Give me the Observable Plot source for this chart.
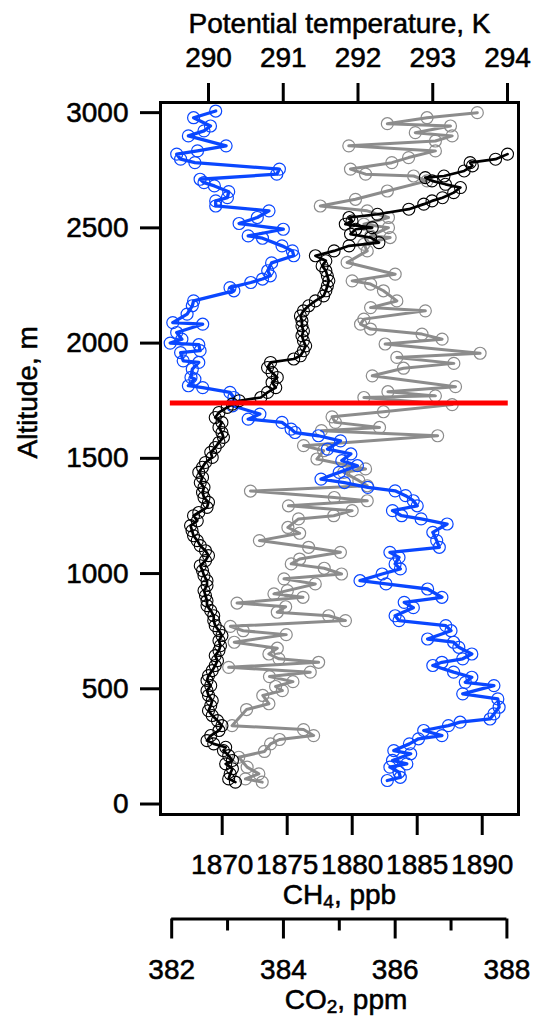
<!DOCTYPE html>
<html><head><meta charset="utf-8">
<script src="https://cdn.jsdelivr.net/npm/d3@7"></script>
<script src="https://cdn.jsdelivr.net/npm/@observablehq/plot@0.6"></script>
<style>body{margin:0;background:#fff}#chart svg{display:block}</style>
</head><body><div id="chart"></div>
<script>
// ---- tick labels ----
const thetaTicks = [290, 291, 292, 293, 294];
const ch4Ticks = [1870, 1875, 1880, 1885, 1890];
const co2Ticks = [382, 384, 386, 388];
const co2Minor = [383, 385, 387];
const altTicks = [0, 500, 1000, 1500, 2000, 2500, 3000];
const pblAltitude = 1740;

// ---- potential temperature profile (K) ----
const thetaAlt = [2820,2798,2783,2769,2747,2725,2718,2704,2689,2675,2653,2631,2617,2603,2581,2559,2545,2530,2516,2501,2494,2473,2458,2436,2422,2400,2379,2357,2335,2314,2292,2270,2248,2227,2205,2183,2162,2140,2118,2097,2075,2053,2032,2010,1988,1967,1945,1931,1916,1894,1872,1851,1829,1807,1786,1764,1750,1735,1721,1699,1677,1656,1634,1612,1591,1569,1547,1526,1504,1482,1461,1439,1417,1395,1374,1352,1330,1309,1287,1265,1251,1229,1208,1186,1164,1143,1121,1099,1078,1056,1034,1013,991,969,948,926,904,882,861,839,817,796,774,752,731,709,687,666,644,622,601,579,557,536,514,492,471,449,427,405,384,362,340,319,297,275,261,246,232,210,189,174,153,131,109,95];
const theta = [294.00,293.84,293.50,293.53,293.42,293.15,292.90,292.99,293.17,293.37,293.28,293.13,292.99,292.88,292.68,292.26,291.88,291.92,291.83,292.19,291.97,291.90,292.17,292.28,291.88,291.68,291.43,291.57,291.52,291.57,291.59,291.61,291.59,291.57,291.54,291.43,291.34,291.27,291.23,291.25,291.25,291.27,291.25,291.27,291.30,291.27,291.23,291.14,290.83,290.79,290.85,290.92,290.85,290.90,290.79,290.70,290.41,290.32,290.25,290.14,290.09,290.18,290.14,290.18,290.20,290.14,290.09,290.03,290.05,289.96,289.92,289.87,289.92,289.89,289.94,289.92,289.94,290.00,289.98,289.87,289.80,289.85,289.76,289.78,289.80,289.85,289.89,289.96,290.00,289.96,289.89,289.92,289.94,289.98,289.98,289.94,289.96,289.98,289.98,290.03,290.07,290.07,290.09,290.14,290.18,290.14,290.16,290.14,290.09,290.12,290.09,290.05,290.00,289.98,290.03,289.98,290.00,290.05,290.03,290.00,290.05,290.12,290.18,290.14,290.03,289.98,290.07,290.23,290.20,290.27,290.32,290.23,290.32,290.29,290.27,290.36];

// ---- CH4 profile (ppb) ----
const ch4Alt = [3007,2978,2942,2921,2899,2856,2834,2820,2798,2783,2755,2733,2711,2696,2682,2657,2631,2617,2595,2574,2545,2519,2494,2465,2455,2422,2400,2379,2348,2314,2292,2278,2263,2241,2227,2183,2162,2126,2089,2082,2046,2017,2000,1993,1967,1959,1923,1916,1887,1851,1844,1815,1807,1786,1764,1728,1692,1670,1656,1627,1612,1598,1576,1540,1519,1490,1468,1439,1410,1395,1374,1359,1338,1316,1294,1273,1251,1237,1215,1179,1143,1114,1092,1070,1042,1020,998,969,955,933,897,875,852,817,796,774,752,716,702,680,651,630,615,601,572,550,528,514,478,456,420,391,369,355,340,319,297,283,261,232,218,189,174,160,138,116,102];
const ch4 = [1869.5,1867.8,1869.1,1868.6,1867.4,1870.3,1868.1,1866.5,1866.8,1867.9,1874.4,1874.2,1868.3,1868.6,1869.4,1870.5,1870.4,1869.5,1869.5,1873.6,1872.7,1871.3,1874.7,1872.0,1873.1,1874.6,1875.4,1875.5,1873.8,1873.5,1873.7,1873.1,1872.2,1870.6,1870.9,1867.8,1867.7,1867.3,1866.2,1868.5,1866.5,1866.9,1866.0,1868.2,1868.3,1866.8,1867.0,1868.2,1867.7,1867.6,1867.9,1867.4,1868.5,1870.6,1870.9,1870.8,1872.9,1872.0,1874.6,1875.3,1875.6,1877.4,1879.1,1878.1,1879.9,1879.2,1880.4,1879.0,1877.6,1879.4,1881.2,1883.3,1884.1,1884.7,1885.0,1883.1,1883.8,1885.3,1887.3,1886.2,1886.5,1886.7,1882.9,1883.6,1883.3,1883.7,1882.3,1880.6,1882.6,1885.8,1886.9,1884.0,1884.7,1883.3,1883.6,1887.2,1887.6,1885.8,1887.8,1888.2,1889.2,1888.5,1886.9,1886.2,1887.8,1889.2,1888.7,1890.9,1888.5,1891.2,1891.3,1890.9,1890.6,1888.3,1887.4,1885.5,1886.9,1885.1,1884.4,1883.2,1884.5,1883.1,1884.2,1882.9,1883.6,1883.7,1882.7];

// ---- CO2 profile (ppm) ----
const co2Alt = [3000,2978,2952,2942,2913,2899,2877,2856,2834,2805,2783,2755,2733,2725,2704,2660,2624,2595,2574,2545,2516,2501,2465,2458,2429,2400,2350,2299,2270,2256,2227,2183,2154,2140,2104,2082,2061,2039,2017,1996,1956,1938,1912,1891,1858,1811,1789,1771,1764,1733,1702,1680,1656,1634,1620,1598,1555,1533,1497,1454,1439,1403,1381,1358,1330,1316,1294,1273,1251,1237,1200,1175,1143,1114,1092,1063,1042,1023,998,977,955,926,912,897,872,856,832,817,796,771,752,735,702,676,651,630,615,593,572,553,531,510,492,471,435,410,340,323,297,280,261,228,203,160,131,109,95];
const co2 = [387.47,386.57,385.86,386.99,386.36,387.02,386.72,385.17,386.72,386.24,385.94,385.20,385.47,386.33,386.57,385.86,385.29,384.66,385.50,385.88,385.44,385.88,385.56,385.91,385.44,385.50,385.14,386.00,385.23,385.56,385.79,386.03,385.56,386.54,385.44,385.38,385.56,386.48,386.84,385.82,387.52,386.03,387.05,386.15,385.59,387.08,385.87,386.72,385.44,387.02,385.79,384.87,384.93,385.72,384.68,386.76,384.36,384.72,384.60,385.47,385.08,385.35,385.50,383.41,384.91,385.50,384.09,385.23,384.90,384.27,384.08,384.29,383.57,384.45,385.02,384.29,384.14,384.73,385.04,384.01,384.57,384.07,383.83,384.35,383.17,384.04,383.89,384.81,385.11,383.05,383.28,384.05,383.12,383.89,383.74,383.92,384.63,383.02,384.48,383.75,384.17,383.86,383.98,383.63,383.74,383.34,383.08,384.36,384.54,383.93,383.77,383.66,383.20,383.35,383.56,383.32,383.62];

// ---- secondary axes are mapped onto the shared (potential temperature) x scale ----
const ch4ToX = d3.scaleLinear([1870, 1890], [290.1833, 293.6616]);
const co2ToX = d3.scaleLinear([382, 388], [289.5077, 293.992]);

const thetaData = thetaAlt.map((a, i) => ({alt: a, x: theta[i]}));
const ch4Data = ch4Alt.map((a, i) => ({alt: a, x: ch4ToX(ch4[i])}));
const co2Data = co2Alt.map((a, i) => ({alt: a, x: co2ToX(co2[i])}));

const yMin = -45.5, yMax = 3044;
const blue = "#0a47ff", gray = "#8c8c8c";
const fs = 28;
const ts = {textStroke: "black", textStrokeWidth: 0.55, textStrokeOpacity: 1};
const tms = {fill: "black", stroke: "black", strokeWidth: 0.55};

const plot = Plot.plot({
  width: 534, height: 1016,
  marginLeft: 160, marginRight: 16, marginTop: 102, marginBottom: 202,
  style: {fontFamily: "'Liberation Sans', Arial, Helvetica, sans-serif", fontSize: fs + "px", color: "black", background: "white", overflow: "visible"},
  x: {domain: [289.358, 294.147]},
  y: {domain: [yMin, yMax]},
  marks: [
    Plot.axisY(altTicks, {anchor: "left", tickSize: 20, tickPadding: 12, strokeWidth: 3, fontSize: fs, tickFormat: d => String(d), label: null, ...ts}),
    Plot.axisX(thetaTicks, {anchor: "top", tickSize: 20, tickPadding: 16, strokeWidth: 3, fontSize: fs, tickFormat: d => String(d), label: null, ...ts}),
    Plot.axisX(ch4Ticks.map(ch4ToX), {anchor: "bottom", tickSize: 21, tickPadding: 19, strokeWidth: 3, fontSize: fs, tickFormat: d => String(Math.round(ch4ToX.invert(d))), label: null, ...ts}),
    Plot.ruleY([yMin], {x1: co2ToX(382), x2: co2ToX(388), dy: 104.5, strokeWidth: 3}),
    Plot.axisX(co2Ticks.map(co2ToX), {anchor: "bottom", dy: 104.5, tickSize: 20, tickPadding: 20, strokeWidth: 3, fontSize: fs, tickFormat: d => String(Math.round(co2ToX.invert(d))), label: null, ...ts}),
    Plot.axisX(co2Minor.map(co2ToX), {anchor: "bottom", dy: 104.5, tickSize: 12, strokeWidth: 3, tickFormat: () => "", label: null}),

    Plot.line(co2Data, {x: "x", y: "alt", stroke: gray, strokeWidth: 3}),
    Plot.dot(co2Data, {x: "x", y: "alt", r: 6, stroke: gray, strokeWidth: 1.2}),
    Plot.line(ch4Data, {x: "x", y: "alt", stroke: blue, strokeWidth: 3.3}),
    Plot.dot(ch4Data, {x: "x", y: "alt", r: 6, stroke: blue, strokeWidth: 1.2}),
    Plot.line(thetaData, {x: "x", y: "alt", stroke: "black", strokeWidth: 2.7}),
    Plot.dot(thetaData, {x: "x", y: "alt", r: 6, stroke: "black", strokeWidth: 1.1}),

    Plot.ruleY([pblAltitude], {x1: 289.49, x2: 294.01, stroke: "#ff0000", strokeWidth: 5}),
    Plot.frame({strokeWidth: 3}),

    Plot.text(["Potential temperature, K"], {text: d => d, frameAnchor: "top", dy: -70, lineAnchor: "bottom", fontSize: fs, ...tms}),
    Plot.text(["Altitude, m"], {text: d => d, frameAnchor: "left", rotate: -90, dx: -132, lineAnchor: "middle", fontSize: fs, ...tms}),
    Plot.text(["CH4, ppb"], {text: d => d, frameAnchor: "bottom", dy: 89, lineAnchor: "bottom", fontSize: fs, ...tms}),
    Plot.text(["CO2, ppm"], {text: d => d, frameAnchor: "bottom", dx: 6.5, dy: 194, lineAnchor: "bottom", fontSize: fs, ...tms})
  ]
});

// subscripts
const NS = "http://www.w3.org/2000/svg";
function subscript(el, a, s, b) {
  el.textContent = "";
  const t1 = document.createElementNS(NS, "tspan"); t1.textContent = a;
  const t2 = document.createElementNS(NS, "tspan"); t2.textContent = s;
  t2.setAttribute("font-size", "19"); t2.setAttribute("dy", "4");
  const t3 = document.createElementNS(NS, "tspan"); t3.textContent = b; t3.setAttribute("dy", "-4");
  el.append(t1, t2, t3);
}
plot.querySelectorAll("text").forEach(el => {
  if (el.textContent === "CH4, ppb") subscript(el, "CH", "4", ", ppb");
  else if (el.textContent === "CO2, ppm") subscript(el, "CO", "2", ", ppm");
});
document.getElementById("chart").append(plot);
</script>
</body></html>
